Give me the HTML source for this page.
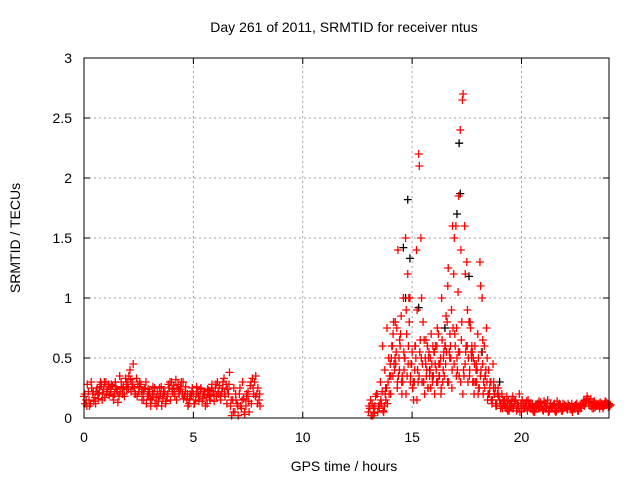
<!DOCTYPE html>
<html><head><meta charset="utf-8"><style>
body{margin:0;background:#fff;}
svg text{font-family:"Liberation Sans",sans-serif;font-size:14px;fill:#000;}
</style></head><body>
<svg id="chart" width="640" height="480" viewBox="0 0 640 480" xmlns="http://www.w3.org/2000/svg">
<rect width="640" height="480" fill="#fff"/>
<g id="grid"></g>
<g id="black"></g>
<g id="red"></g>
<rect x="84" y="58" width="525" height="360" fill="none" stroke="#000" stroke-width="1"/>
<g id="ticks"></g>
<text x="344" y="32" text-anchor="middle">Day 261 of 2011, SRMTID for receiver ntus</text>
<text x="344" y="471" text-anchor="middle">GPS time / hours</text>
<text x="20" y="238" text-anchor="middle" transform="rotate(-90 20 238)">SRMTID / TECUs</text>
</svg>
<script>
const xTicks=[0,5,10,15,20];
const yTicks=[0,0.5,1,1.5,2,2.5,3];
const yTickLabels=["0","0.5","1","1.5","2","2.5","3"];
const quietA=[0.18,0.15,0.22,0.12,0.2,0.17,0.25,0.21,0.28,0.24,0.3,0.26,0.22,0.27,0.2,0.24,0.18,0.3,0.26,0.33,0.28,0.4,0.3,0.25,0.33,0.22,0.28,0.2,0.25,0.18,0.22,0.15,0.2,0.17,0.14,0.2,0.16,0.22,0.18,0.25,0.3,0.27,0.32,0.28,0.24,0.2,0.18,0.15,0.12,0.18,0.2,0.15,0.22,0.18,0.14,0.2,0.17,0.23,0.19,0.22,0.25,0.3,0.27,0.22,0.33,0.28,0.2,0.1,0.15,0.05,0.12,0.2,0.08,0.16,0.1,0.22,0.27,0.33,0.3,0.2,0.15];
const quietB=[0.12,0.28,0.1,0.25,0.14,0.22,0.16,0.3,0.2,0.17,0.22,0.19,0.28,0.15,0.26,0.13,0.22,0.2,0.18,0.24,0.35,0.22,0.45,0.2,0.28,0.3,0.15,0.24,0.12,0.2,0.1,0.26,0.12,0.22,0.25,0.1,0.2,0.14,0.28,0.15,0.22,0.18,0.25,0.2,0.3,0.16,0.26,0.1,0.2,0.25,0.12,0.26,0.14,0.25,0.2,0.1,0.24,0.15,0.28,0.14,0.18,0.2,0.15,0.3,0.18,0.24,0.38,0.02,0.25,0.15,0.02,0.1,0.3,0.03,0.18,0.05,0.12,0.2,0.35,0.25,0.1];
const quietC=[0.2,0.1,0.15,0.3,0.22,0.12,0.2,0.26,0.15,0.3,0.2,0.28,0.24,0.18,0.3,0.22,0.35,0.25,0.2,0.3,0.24,0.32,0.26,0.2,0.18,0.26,0.22,0.15,0.3,0.24,0.16,0.2,0.25,0.1,0.18,0.26,0.22,0.12,0.2,0.3,0.24,0.2,0.15,0.22,0.26,0.3,0.22,0.2,0.16,0.22,0.12,0.2,0.18,0.24,0.16,0.22,0.12,0.18,0.25,0.2,0.28,0.22,0.18,0.25,0.2,0.12,0.28,0.15,0.05,0.2,0.1,0.25,0.15,0.05,0.2,0.14,0.3,0.25,0.18,0.12,0.2];
const activeA=[0.05,0.15,0.02,0.1,0.2,0.08,0.12,0.05,0.15,0.3,0.45,
0.6,0.4,0.75,0.5,0.85,1.0,1.5,1.2,1.0,0.55,
0.3,1.4,2.2,1.5,0.8,0.5,0.6,0.35,0.45,0.55,
0.4,0.7,0.5,0.3,0.6,0.8,0.55,0.9,1.2,1.6,
1.05,2.4,2.65,1.6,1.3,0.8,0.55,0.5,0.3,0.7,
1.3,1.0,0.6,0.75,0.4,0.3,0.45,0.25,0.2,0.15,
0.2,0.12,0.08,0.15,0.1,0.18,0.12,0.1,0.2,0.08,
0.12,0.1,0.15,0.08,0.12,0.05,0.1,0.14,0.1,0.06,0.12,0.15,0.1,0.08,0.12,0.06,0.1,0.08,0.12,0.1,0.07,0.1,0.12,0.08,0.1,0.06,0.1,0.12,0.15,0.18,0.14,0.1,0.08,0.12,0.1,0.13,0.1,0.12,0.11,0.12];
const activeB=[0.1,0.02,0.08,0.18,0.05,0.12,0.22,0.1,0.25,0.5,0.35,
0.7,0.8,0.3,0.65,0.2,0.4,0.9,0.6,0.35,0.25,
0.6,0.9,2.1,1.0,0.3,0.65,0.25,0.5,0.3,0.2,
0.6,0.35,0.25,0.5,0.45,1.1,0.7,0.4,1.5,0.75,
1.85,1.4,2.7,1.2,0.9,0.4,0.6,0.2,0.45,0.5,
1.1,0.65,0.35,0.5,0.2,0.15,0.3,0.1,0.25,0.12,
0.08,0.15,0.18,0.06,0.14,0.08,0.15,0.12,0.05,0.15,
0.08,0.14,0.1,0.12,0.06,0.1,0.12,0.08,0.1,0.14,0.08,0.05,0.12,0.1,0.06,0.14,0.12,0.06,0.08,0.1,0.12,0.08,0.05,0.1,0.12,0.1,0.08,0.14,0.12,0.16,0.1,0.08,0.14,0.1,0.12,0.1,0.08,0.14,0.12,0.1];
const activeC=[0.3,0.6,0.4,0.75,0.2,0.5,0.8,0.45,1.4,0.6,0.35,
0.5,0.7,1.0,0.45,0.3,0.6,0.4,0.55,0.3,0.65,
0.35,0.5,0.25,0.6,0.45,0.75,0.35,1.0,0.55,0.85,
1.25,0.6,1.6,0.7,0.5,0.35,0.65,0.4,0.55,0.3,
0.8,0.55,0.45,0.3,0.25,0.4,0.2,0.35,0.15,0.25,
0.12,0.2,0.1,0.18,0.08,0.15,0.1,0.12,0.08,0.1];
const activeD=[0.08,0.12,0.04,0.2,0.1,0.15,0.06,0.2,0.12,0.35,0.6,
0.45,0.55,0.35,0.7,0.3,0.5,0.35,0.8,0.45,0.15,
0.5,0.3,0.65,0.45,0.2,0.4,0.55,0.7,0.35,0.6,
0.3,0.45,0.65,0.35,0.55,0.3,0.5,0.75,0.6,0.4,
0.55,0.8,0.35,0.6,0.5,0.75,0.3,0.6,0.4,0.25,
0.55,0.3,0.4,0.2,0.3,0.15,0.2,0.12,0.18,0.1,
0.14,0.1,0.06,0.12,0.08,0.14,0.06,0.1,0.12,0.08,
0.1,0.06,0.12,0.09,0.05,0.11,0.08,0.13,0.07,0.1,0.12,0.06,0.09,0.11,0.05,0.08,0.1,0.06,0.11,0.08,0.1,0.07,0.09,0.11,0.06,0.08,0.12,0.1,0.14,0.12,0.16,0.13,0.09,0.11,0.08,0.12,0.1,0.13,0.09,0.11];
const activeE=[0.2,0.35,0.5,0.25,0.4,0.3,0.55,0.2,0.45,0.3,
0.25,0.4,0.15,0.35,0.5,0.3,0.45,0.25,0.4,0.35,
0.55,0.3,0.45,0.2,0.4,0.6,0.3,0.5,0.25,0.45,
0.35,0.55,0.3,0.2,0.45,0.6,0.35,0.5,0.3,0.4,
0.2,0.35,0.45,0.25,0.3,0.2,0.15,0.25,0.12,0.2];
const blackTimes=[14.6,14.8,14.9,17.2,17.15,17.05,15.3,16.5,17.6,14.7,18.2,15.8,19.0,13.8];
const blackValues=[1.42,1.82,1.33,1.87,2.29,1.7,0.92,0.75,1.18,1.0,0.55,0.4,0.3,0.25];

const NS="http://www.w3.org/2000/svg";
const X0=84,X1=609,Y0=418,Y1=58;
function xs(t){return X0+(t/24)*(X1-X0);}
function ys(v){return Y0-(v/3)*(Y0-Y1);}
function mk(tag,attrs,parent){const e=document.createElementNS(NS,tag);for(const k in attrs)e.setAttribute(k,attrs[k]);parent.appendChild(e);return e;}
const grid=document.getElementById('grid'),ticks=document.getElementById('ticks');
xTicks.forEach(t=>{
  const x=xs(t);
  if(t>0){const l=mk('line',{x1:x,y1:Y0,x2:x,y2:Y1,stroke:'#a0a0a0','stroke-dasharray':'2,3'},grid);
  
  }
  mk('line',{x1:x,y1:Y0,x2:x,y2:Y0-6,stroke:'#000'},ticks);
  mk('line',{x1:x,y1:Y1,x2:x,y2:Y1+6,stroke:'#000'},ticks);
  const tx=mk('text',{x:x,y:Y0+24,'text-anchor':'middle'},ticks);tx.textContent=String(t);
  
  
});
yTicks.forEach((v,i)=>{
  const y=ys(v);
  if(v>0&&v<3){const l=mk('line',{x1:X0,y1:y,x2:X1,y2:y,stroke:'#a0a0a0','stroke-dasharray':'2,3'},grid);
  
  }
  mk('line',{x1:X0,y1:y,x2:X0+6,y2:y,stroke:'#000'},ticks);
  mk('line',{x1:X1,y1:y,x2:X1-6,y2:y,stroke:'#000'},ticks);
  const tx=mk('text',{x:X0-12,y:y+5,'text-anchor':'end'},ticks);tx.textContent=yTickLabels[i];
  
  
});
function plus(t,v,col,g){
  const x=xs(t),y=ys(v),r=4;
  const p=mk('path',{d:`M${x-r},${y}H${x+r}M${x},${y-r}V${y+r}`,stroke:col,'stroke-width':1.3,fill:'none'},g);
  
  
}
const red=document.getElementById('red'),black=document.getElementById('black');
blackTimes.forEach((t,i)=>plus(t,blackValues[i],'#000',black));
quietA.forEach((v,i)=>plus(i*0.1,v,'#ff0000',red));
quietB.forEach((v,i)=>plus(i*0.1+0.05,v,'#ff0000',red));
quietC.forEach((v,i)=>plus(i*0.1+0.03,v,'#ff0000',red));
activeA.forEach((v,i)=>plus(13+i*0.1,v,'#ff0000',red));
activeB.forEach((v,i)=>plus(13.03+i*0.1,v,'#ff0000',red));
activeC.forEach((v,i)=>plus(13.55+i*0.1,v,'#ff0000',red));
activeD.forEach((v,i)=>plus(13.07+i*0.1,v,'#ff0000',red));
activeE.forEach((v,i)=>plus(14.02+i*0.1,v,'#ff0000',red));
</script>
</body></html>
